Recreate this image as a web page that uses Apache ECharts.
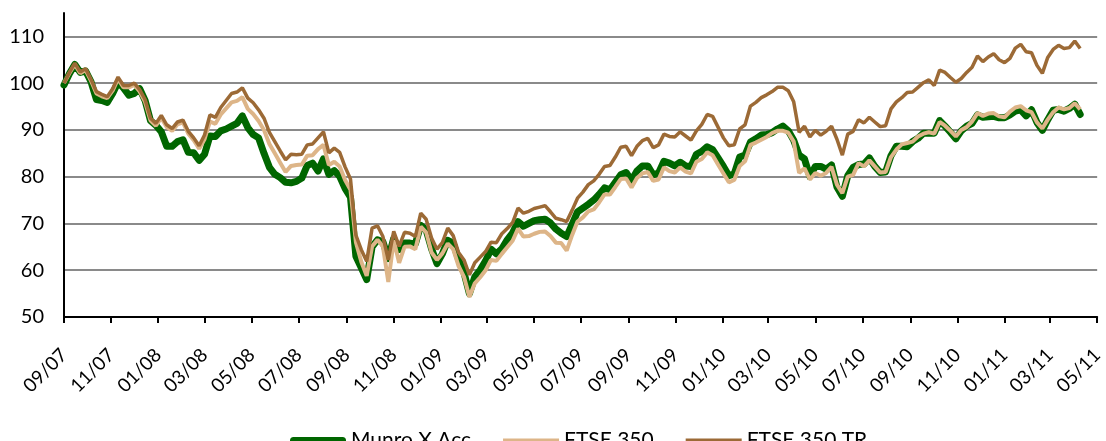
<!DOCTYPE html>
<html><head><meta charset="utf-8">
<script src="https://cdn.jsdelivr.net/npm/echarts@6/dist/echarts.min.js"></script>
<style>html,body{margin:0;padding:0;background:#fff}#c{width:1106px;height:441px}</style>
</head><body><div id="c"></div>
<script>
// weekly observations starting 1 Sep 2007
const firstWeek = [2007, 8, 1];
const weekCount = 189;
const tickDates = ['2007-09-01','2007-11-01','2008-01-01','2008-03-01','2008-05-01','2008-07-01','2008-09-01','2008-11-01',
  '2009-01-01','2009-03-01','2009-05-01','2009-07-01','2009-09-01','2009-11-01','2010-01-01','2010-03-01','2010-05-01',
  '2010-07-01','2010-09-01','2010-11-01','2011-01-01','2011-03-01','2011-05-01'];
const seriesNames = ['Munro X Acc', 'FTSE 350', 'FTSE 350 TR'];
const munro = [99.6,102,104,102.3,102.6,100.3,96.5,96.3,95.9,97.8,100.2,99,97.4,97.8,98.8,96.3,92,91,89.6,86.5,86.5,87.5,87.9,85.2,85.1,83.5,84.8,88.7,88.6,89.8,90.2,90.8,91.4,93.0,90.5,89.0,88.3,85.0,82.0,80.5,79.8,78.8,78.7,79.0,79.7,82.4,82.9,81.2,83.8,
  80.5,81.3,80.1,77.5,75.6,63,60.5,58,65,66.5,66.1,62.5,66.8,64.4,65.8,65.8,65.6,69.6,68.6,64.6,61.4,63.5,66.4,65.8,62.3,59.5,55,58.6,60.1,62,64.5,63.5,64.6,66.5,68,70.4,69.4,70,70.6,70.8,70.9,70.1,68.8,67.9,67.2,69.8,72.5,73.3,
  74.1,75,76.2,77.6,77.2,78.8,80.4,80.9,79.2,81.2,82.3,82.3,80.4,80.8,83.3,82.9,82.3,83.1,82.3,82.2,84.8,85.4,86.4,85.8,84,82.2,80.2,80.6,84.2,84.6,87.4,88.1,88.9,89,89.4,90.2,90.8,89.8,87.8,84.6,83.8,80,82.2,82.2,81.6,82.5,77.8,
  75.8,80.2,82,82.6,82.7,84,82.2,80.9,81,84.5,86.5,86.5,86.4,87.5,88.2,89.3,89.3,89.3,92,90.8,89.5,88.1,89.8,90.8,91.4,93.2,92.7,92.8,92.9,92.6,92.6,93.2,94,94.3,93,94.3,91.6,89.9,92.2,94.2,94.4,94,94.6,95.5,93.3];
const ftse350 = [100,102.1,104.0,102.1,102.8,100.5,97.8,97.2,96.8,98.4,100.9,99.1,99.1,99.6,98.2,96.0,92.0,90.9,92.6,90.6,89.8,91.2,91.6,89.2,87.8,86.0,88.0,91.8,91.3,93.3,94.6,95.9,96.2,97.0,94.5,93.4,91.9,90.0,87.0,85.0,83.0,81.0,82.3,82.5,82.6,84.5,84.6,85.9,86.8,
  82.5,83.2,82.2,79.3,77.2,66,61.8,58.8,65.1,66.5,65.1,57.5,66.4,61.6,65,65.1,64.5,69.3,68.1,63.8,62.2,63.6,65.7,64.5,60.9,58.6,54.3,57.2,58.5,60,62.2,62,63.5,64.9,66.3,68.9,67.2,67.3,67.8,68.2,68.3,67.3,65.9,65.8,64.2,67.5,70.4,71.3,
  72.6,73,74.5,76.2,76.2,77.8,79.5,79.6,77.7,79.7,80.7,81,79.1,79.4,82,81.2,80.9,82,81.1,80.7,83.2,83.8,85.2,84.6,82.6,80.7,78.8,79.3,82.3,83.3,86.8,87.3,87.9,88.5,89.3,89.8,89.8,89.4,87.5,80.8,81.8,79.4,80.8,80.2,80.8,82.1,78.3,
  76.5,80,80.4,82.9,82.2,83.5,82.2,80.9,81,84.2,85.8,86.9,87.2,87.5,88.6,89.2,89.5,89.2,91.7,90.9,89.8,88.6,90,90.6,91.8,93.6,93,93.5,93.6,92.9,92.7,93.9,94.8,95.1,94.2,93.8,91.6,90.3,92.2,93.8,94.8,94.4,94.7,95.7,94.4];
const ftse350tr = [100,102.3,104.3,102.4,103.1,100.8,98.2,97.6,97.1,98.8,101.3,99.5,99.5,100.0,98.6,96.5,92.5,91.4,93.1,91.1,90.3,91.7,92.1,89.7,88.3,86.6,88.9,93.2,92.7,94.8,96.3,97.8,98.1,99.0,96.8,95.8,94.3,92.5,89.5,87.5,85.5,83.6,84.8,84.7,84.8,86.8,87.0,88.3,89.6,
  85.1,86.1,85.2,82.1,79.5,67.5,64.4,61.9,69,69.5,67.2,62.2,68.3,65.1,68.1,67.9,67.2,72.2,70.9,66.9,64.5,65.9,69,67.4,63.8,62.2,59,61.6,62.8,64,66,65.9,67.8,68.9,70.2,73.3,72.2,72.6,73.2,73.5,73.8,72.5,71.1,70.8,70.4,72.8,75.4,76.7,
  78.3,79.1,80.5,82.2,82.4,84.2,86.3,86.5,84.5,86.5,87.7,88.2,86.2,86.8,89.1,88.6,88.5,89.6,88.7,87.8,89.8,91.2,93.3,92.9,90.6,88.3,86.6,86.8,90.2,91.1,95.1,95.9,96.9,97.5,98.2,99.1,99.1,98.4,96,89.5,90.8,88.5,89.9,88.9,89.7,90.8,88,
  84.6,89.1,89.7,92.2,91.5,92.7,91.7,90.7,90.9,94.5,96,96.9,98,98.1,99.1,100.1,100.7,99.5,102.8,102.3,101.2,100.2,101,102.3,103.4,105.8,104.6,105.6,106.3,105,104.4,105.3,107.5,108.3,106.7,106.5,103.8,102.1,105.5,107.2,108.1,107.4,107.6,109,107.4];

const DAY = 86400000;
const t0 = Date.UTC(firstWeek[0], firstWeek[1], firstWeek[2]);
const dates = [];
for (let i = 0; i < weekCount; i++) dates.push(t0 + i * 7 * DAY);
const ticks = tickDates.map(s => Date.parse(s + 'T00:00:00Z'));
const pair = arr => arr.map((v, i) => [dates[i], v]);
const fmt = v => { const d = new Date(v); const m = d.getUTCMonth() + 1; const y = d.getUTCFullYear() % 100; return (m < 10 ? '0' : '') + m + '/' + (y < 10 ? '0' : '') + y; };

const FONT = 'Lato';
const colors = ['#006600', '#DDB588', '#9C6A36'];
const chart = echarts.init(document.getElementById('c'), null, {renderer: 'canvas'});
chart.setOption({
  animation: false,
  backgroundColor: '#fff',
  grid: {left: 64, right: 2, top: 13, bottom: 124},
  legend: {
    left: 285, top: 425, itemWidth: 56, itemHeight: 14, itemGap: 32,
    textStyle: {fontSize: 21, color: '#000', fontFamily: FONT},
    data: [
      {name: seriesNames[0], icon: 'path://M3.5,0 H52.5 A3.5,3.5 0 0 1 52.5,7 H3.5 A3.5,3.5 0 0 1 3.5,0 Z', itemStyle: {color: colors[0]}},
      {name: seriesNames[1], icon: 'path://M0,0 H56 V4 H0 Z', itemStyle: {color: colors[1]}},
      {name: seriesNames[2], icon: 'path://M0,0 H56 V4 H0 Z', itemStyle: {color: colors[2]}}
    ]
  },
  xAxis: {
    type: 'value',
    min: ticks[0], max: ticks[ticks.length - 1],
    axisLine: {lineStyle: {color: '#000', width: 2}},
    axisTick: {show: true, customValues: ticks, length: 6, lineStyle: {color: '#000', width: 2}},
    axisLabel: {customValues: ticks, rotate: 45, formatter: fmt, fontSize: 19, color: '#000', fontFamily: FONT, margin: 35},
    splitLine: {show: false}
  },
  yAxis: {
    type: 'value', min: 50, max: 115, interval: 10,
    axisLine: {show: true, lineStyle: {color: '#000', width: 2}},
    axisTick: {show: false},
    axisLabel: {fontSize: 20, color: '#000', fontFamily: FONT, margin: 20, showMaxLabel: false},
    splitLine: {show: true, showMaxLine: false, lineStyle: {color: '#8a8a8a', width: 2}}
  },
  series: [
    {name: seriesNames[0], type: 'line', data: pair(munro), showSymbol: false, symbol: 'none',
     lineStyle: {color: colors[0], width: 7, join: 'round', cap: 'round'}, itemStyle: {color: colors[0]}},
    {name: seriesNames[1], type: 'line', data: pair(ftse350), showSymbol: false, symbol: 'none',
     lineStyle: {color: colors[1], width: 4}, itemStyle: {color: colors[1]}},
    {name: seriesNames[2], type: 'line', data: pair(ftse350tr), showSymbol: false, symbol: 'none',
     lineStyle: {color: colors[2], width: 3.5}, itemStyle: {color: colors[2]}}
  ]
});
</script></body></html>
